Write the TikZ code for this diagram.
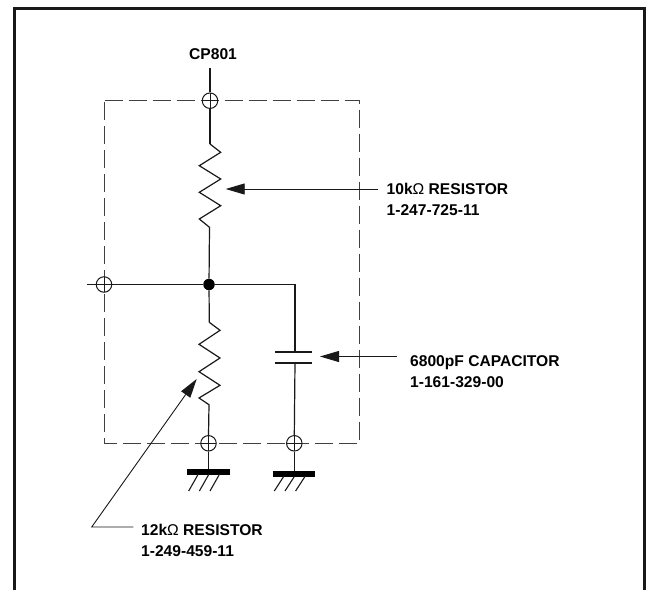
\documentclass[tikz,border=0pt]{standalone}
\usepackage{fontspec}
\setmainfont{Liberation Sans}
\usetikzlibrary{arrows.meta}
\tikzset{
  wire/.style={line width=1.2pt,black!90},
  term/.style={circle,draw=black!90,line width=1pt,fill=white,minimum size=15.5pt,inner sep=0pt,
    path picture={\draw[line width=0.9pt,black!90] (path picture bounding box.north) -- (path picture bounding box.south)
      (path picture bounding box.west) -- (path picture bounding box.east);}},
  junction/.style={circle,fill=black,minimum size=11.5pt,inner sep=0pt},
  lab/.style={anchor=base west,inner sep=0pt,font=\bfseries\fontsize{15.6pt}{18pt}\selectfont},
  pointer/.style={line width=0.9pt,black!90,-{Triangle[length=19pt,width=11pt]}},
  boxline/.style={line width=1pt,black!75,dash pattern=on 18pt off 6pt},
  gbar/.style={line width=6pt,black},
  hatchline/.style={line width=1.1pt,black!90},
  plate/.style={line width=1.8pt,black!90},
  frameline/.style={line width=3pt,black!90}
}
\begin{document}
\begin{tikzpicture}[x=1pt,y=-1pt]
\useasboundingbox (0,0) rectangle (649,590);
\fill[white] (0,0) rectangle (649,590);
\draw[frameline] (14,590) -- (14,8.5) -- (644,8.5) -- (644,590);
% dashed module outline
\draw[boxline] (104.5,100.5) -- (359.5,100.5) -- (359.5,443.3) -- (104.5,443.3) -- cycle;
% labels
\node[lab] (cp) at (189,59) {CP801};
\node[lab] (r1a) at (386.5,194) {10k{\mdseries Ω} RESISTOR};
\node[lab] (r1b) at (386.5,215) {1-247-725-11};
\node[lab] (c1a) at (410,366) {6800pF CAPACITOR};
\node[lab] (c1b) at (410,387) {1-161-329-00};
\node[lab] (r2a) at (141,535) {12k{\mdseries Ω} RESISTOR};
\node[lab] (r2b) at (141,556) {1-249-459-11};
% named points
\coordinate (topend) at (210,68);
\coordinate (leftend) at (86.5,284.5);
\coordinate (capcorner) at (295,284.5);
\coordinate (r1top) at (210,144);
\coordinate (r1bot) at (209.5,227.3);
\coordinate (r2top) at (209.3,322.3);
\coordinate (r2bot) at (209,404.7);
\coordinate (p1t) at (295,352);
\coordinate (p2t) at (295,363);
\coordinate (g1) at (208.5,472);
\coordinate (g2) at (294.3,473.7);
% terminals
\node[term] (t1) at (210,100.7) {};
\node[term] (t2) at (104,284.5) {};
\node[term] (t3) at (208.5,443.3) {};
\node[term] (t4) at (294.3,443.3) {};
\node[junction] (j) at (209,284.5) {};
% wiring
\draw[wire] (topend) -- (t1.north);
\draw[wire] (t1.south) -- (r1top);
\draw[wire] (r1top) -- (220.7,152.3) -- (199.3,165.7) -- (220.7,179) -- (199.3,192.3) -- (220.7,205.7) -- (199.3,219) -- (r1bot) -- (j);
\draw[wire] (leftend) -- (t2.west);
\draw[wire] (t2.east) -- (j) -- (capcorner) -- (p1t);
\draw[wire] (j) -- (r2top);
\draw[wire] (r2top) -- (220,330.3) -- (199,344.3) -- (220,358) -- (199,371.7) -- (220,385.3) -- (199,398) -- (r2bot) -- (t3.north);
\draw[wire] (p2t) -- (t4.north);
\draw[plate] (275,352) -- (311.7,352) (275,363) -- (311.7,363);
\draw[wire] (t3.south) -- (g1);
\draw[wire] (t4.south) -- (g2);
% grounds
\draw[gbar] (187.3,472) -- (230,472);
\draw[gbar] (272.7,473.7) -- (315,473.7);
\foreach \x in {0,10.7,21.3}{
  \draw[hatchline] (198.3+\x,474) -- (188.7+\x,491);
  \draw[hatchline] (284+\x,476) -- (274.3+\x,491);
}
% pointers
\coordinate (a1s) at (378,189);
\coordinate (a1e) at (225.7,189);
\coordinate (a2s) at (396.7,356.5);
\coordinate (a2e) at (320,356.5);
\coordinate (a3s) at (133.3,527);
\coordinate (a3m) at (91.7,527);
\coordinate (a3e) at (196.7,379);
\draw[pointer] (a1s) -- (a1e);
\draw[pointer] (a2s) -- (a2e);
\draw[pointer] (a3s) -- (a3m) -- (a3e);
\end{tikzpicture}
\end{document}
